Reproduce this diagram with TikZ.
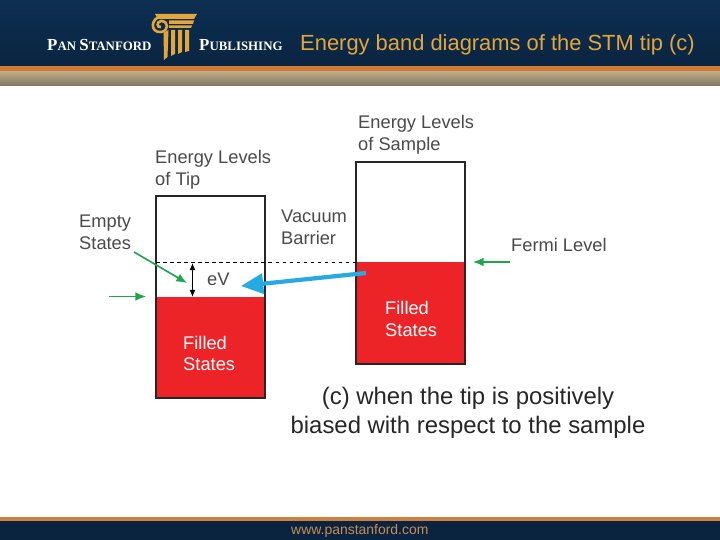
\documentclass[tikz,border=0pt]{standalone}
\usepackage{fontspec}
\setmainfont{Liberation Sans}
\newfontfamily\logofont{Liberation Serif}
\usepackage{tikz}
\usetikzlibrary{arrows.meta}
\definecolor{navy}{HTML}{0B2C4E}
\definecolor{navytop}{HTML}{0C2F52}
\definecolor{navylow}{HTML}{0A2440}
\definecolor{stripe}{HTML}{CF7A35}
\definecolor{tan}{HTML}{BBA985}
\definecolor{tandark}{HTML}{7F7660}
\definecolor{gold}{HTML}{E3A63C}
\definecolor{bandred}{HTML}{ED2427}
\definecolor{arrowgreen}{HTML}{1FA64A}
\definecolor{arrowblue}{HTML}{27AAE1}
\definecolor{labelgray}{HTML}{4A4A4A}
\def\dcol{\fill[gold]}
\tikzset{
  bandbox/.style={draw=black!85,line width=1.9pt},
  bandlabel/.style={text=labelgray,font=\fontsize{15.6}{18.7}\selectfont,align=left,anchor=west,inner sep=0pt},
  filledlabel/.style={text=white,font=\fontsize{15.6}{18.7}\selectfont,align=left,anchor=west,inner sep=0pt},
  greenarrow/.style={draw=arrowgreen,line width=1.4pt,-{Latex[length=9pt,width=7.5pt]}},
  logotext/.style={text=white,font=\logofont\bfseries,inner sep=0pt,anchor=west}
}
\begin{document}
\begin{tikzpicture}[x=0.03cm,y=-0.03cm]
            \useasboundingbox (0,0) rectangle (720,540);
            \fill[white] (0,0) rectangle (720,540);
            % header
            \shade[top color=navytop,bottom color=navylow] (0,0) rectangle (720,66);
            \fill[stripe] (0,66) rectangle (720,72);
            \shade[top color=tan,middle color=tan,bottom color=tandark] (0,72) rectangle (720,86);
            \node[logotext] (panname) at (47,45.5) {\fontsize{14.4}{15}\selectfont P\fontsize{11}{15}\selectfont AN \fontsize{14.4}{15}\selectfont S\fontsize{11}{15}\selectfont TANFORD};
            \node[logotext] (pubname) at (199,45.5) {\fontsize{14.4}{15}\selectfont P\fontsize{11}{15}\selectfont UBLISHING};
            \node[text=gold,font=\fontsize{18.7}{19}\selectfont,anchor=east,inner sep=0pt] (title) at (695,45) {Energy band diagrams of the STM tip (c)};
            % logo
            \dcol (155,14) -- (197,14) -- (194,19) -- (158,19) -- cycle;
            \dcol (169,20.5) -- (194,20.5) -- (193,24) -- (169,24) -- cycle;
            \dcol (169,25.5) -- (192,25.5) -- (191,28) -- (169,28) -- cycle;
            \draw[gold,line width=2.2pt] (162,16) .. controls (150,18) and (150,33) .. (161,32) .. controls (169,31) and (169,21) .. (161,21) .. controls (156,22) and (157,28) .. (161,27);
            \dcol (163.5,33) -- (168.5,30) -- (167.5,57) -- (164,60) -- cycle;
            \dcol (171,30) -- (175,30) -- (175,54) -- (171,56) -- cycle;
            \dcol (178,30) -- (182,30) -- (182,52) -- (178,54) -- cycle;
            \dcol (185,30) -- (189,30) -- (189,51) -- (185,52) -- cycle;
            % tip
            \fill[bandred] (156,297) rectangle (265,398);
            \draw[bandbox] (156,196) rectangle (265,398);
            % sample
            \fill[bandred] (356,262) rectangle (465,364);
            \draw[bandbox] (356,162) rectangle (465,364);
            % levels
            \coordinate (tipfermi) at (156,262);
            \coordinate (samplefermi) at (356,262);
            \coordinate (tipfilled) at (192.5,297);
            \coordinate (tiptop) at (192.5,263);
            \draw[dashed,line width=0.8pt] (tipfermi) -- (samplefermi);
            \draw[{Latex[length=6pt,width=5pt]}-{Latex[length=6pt,width=5pt]},line width=0.8pt] (tiptop) -- (tipfilled);
            % labels
            \node[bandlabel] (tiplevels) at (155,170) {Energy Levels\\of Tip};
            \node[bandlabel] (samplelevels) at (358,135) {Energy Levels\\of Sample};
            \node[bandlabel] (emptystates) at (79,232) {Empty\\States};
            \node[bandlabel] (vacuum) at (281,227) {Vacuum\\Barrier};
            \node[bandlabel] (fermi) at (511,245) {Fermi Level};
            \node[bandlabel] (ev) at (207,279) {eV};
            \node[filledlabel] (tipfilledlabel) at (183,353.5) {Filled\\States};
            \node[filledlabel] (samplefilledlabel) at (385,319) {Filled\\States};
            \node[text=black!85,font=\fontsize{20.4}{24.6}\selectfont,align=center,inner sep=0pt] (caption) at (468,413) {(c) when the tip is positively\\biased with respect to the sample};
            % arrows
            \coordinate (fermistart) at (510,262);
            \coordinate (fermiend) at (473,262);
            \coordinate (leftstart) at (109,296.5);
            \coordinate (leftend) at (146,296.5);
            \coordinate (emptystart) at (134,252);
            \coordinate (emptyend) at (187,283);
            \coordinate (bluestart) at (366,273);
            \coordinate (blueend) at (241,286);
            \draw[greenarrow] (fermistart) -- (fermiend);
            \draw[greenarrow] (leftstart) -- (leftend);
            \draw[greenarrow] (emptystart) -- (emptyend);
            \draw[arrowblue,line width=3.6pt,-{Triangle[length=19pt,width=17pt]}] (bluestart) -- (blueend);
            % footer
            \fill[stripe!85!tan] (0,517) rectangle (720,521);
            \fill[navylow] (0,521) rectangle (720,540);
            \node[text=stripe!60!tan,font=\fontsize{11.9}{12}\selectfont,anchor=west,inner sep=0pt] (website) at (291,531) {www.panstanford.com};
        \end{tikzpicture}
\end{document}
